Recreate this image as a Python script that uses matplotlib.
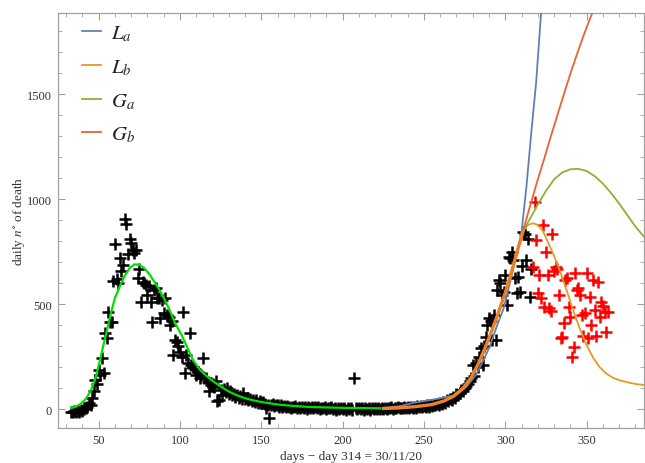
import numpy as np
import matplotlib
matplotlib.use("Agg")
import matplotlib.pyplot as plt
from matplotlib.ticker import MultipleLocator

# ---------------- data ----------------
black_start = 33
black_vals = [
    -12, -15, -10, -14, -8, -12, -5, -10, 0, 5,          # 33-42
    12, 28, 20, 52, 84, 139, 120, 187, 163, 243,         # 43-52
    171, 361, 338, 465, 417, 417, 610, 786, 620, 600,    # 53-62
    718, 660, 686, 908, 884, 740, 813, 790, 757, 742,    # 63-72
    760, 623, 670, 512, 607, 599, 591, 543, 588, 512,    # 73-82
    417, 567, 575, 530, 528, 433, 520, 456, 528, 448,    # 83-92
    440, 401, 420, 258, 330, 322, 300, 274, 250, 465,    # 93-102
    171, 258, 220, 361, 211, 203, 190, 163, 175, 147,    # 103-112
    163, 243, 150, 147, 130, 84, 116, 120, 105, 132,     # 113-122
    37, 44, 90, 68, 95, 80, 100, 72, 85, 65,             # 123-132
    70, 60, 68, 55, 62, 50, 76, 48, 55, 42,              # 133-142
    50, 38, 45, 35, 44, 30, 38, 28, 32, 25,              # 143-152
    5, 22, -43, 20, 25, 15, 22, 18, 12, 20,              # 153-162
    10, 15, 8, 14, 10, 5, 12, 8, 15, 6,                  # 163-172
    10, 4, 12, 7, 10, 2, 9, 5, 11, 3,                    # 173-182
    8, 6, 10, 2, 7, 4, 9, 0, 6, 3,                       # 183-192
    8, 1, 5, -2, 6, 2, 7, 0, 5, -3,                      # 193-202
    4, 1, 6, -2, 147, 3, -1, 5, 0, 4,                    # 203-212
    -3, 6, 1, 3, -2, 5, 0, 4, -1, 6,                     # 213-222
    2, 3, 0, 5, 2, 7, 3, 8, 1, 6,                        # 223-232
    4, 9, 3, 7, 5, 10, 4, 8, 6, 12,                      # 233-242
    7, 10, 5, 13, 9, 15, 8, 14, 12, 18,                  # 243-252
    10, 20, 15, 22, 18, 25, 20, 30, 25, 35,              # 253-262
    30, 42, 38, 50, 45, 60, 55, 70, 68, 75,              # 263-272
    90, 84, 100, 108, 120, 132, 150, 211, 160, 219,      # 273-282
    200, 250, 290, 211, 300, 346, 400, 433, 420, 330,    # 283-292
    450, 330, 567, 615, 600, 543, 560, 639, 496, 726,    # 293-302
    718, 750, 710, 623, 552, 631, 560, 680, 845, 837,    # 303-312
    710, 813, 536, 670,                                  # 313-316
]
black_days = np.arange(black_start, black_start + len(black_vals))

red_start = 317
red_vals = [
    678, 988, 805, 552, 639, 528, 876, 488, 750, 639,    # 317-326
    480, 470, 837, 660, 678, 670, 543, 338, 346, 409,    # 327-336
    615, 623, 488, 440, 250, 298, 647, 567, 575, 543,    # 337-346
    448, 350, 456, 647, 341, 536, 401, 615, 472, 350,    # 347-356
    607, 440, 512, 490, 465, 369, 465,                   # 357-363
]
red_days = np.arange(red_start, red_start + len(red_vals))

# first-wave fit (bright green)
green_days = [33, 36, 39, 42, 45, 48, 51, 54, 57, 60, 63, 66, 69, 72, 75, 78,
              81, 84, 88, 91, 94, 97, 101, 105, 108, 112, 116, 120, 125, 130,
              135, 140, 145, 150, 155, 160, 170, 180, 190, 200, 210, 223]
green_vals = [5, 12, 25, 48, 85, 145, 240, 340, 440, 530, 585, 635, 672, 690,
              688, 672, 645, 610, 560, 515, 465, 410, 353, 285, 234, 190, 160,
              135, 108, 84, 66, 52, 42, 34, 28, 22, 15, 10, 8, 6, 5, 4]

# fitted range (thick orange)
fit_days = [225, 235, 245, 255, 262, 268, 274, 279, 284, 288, 292, 296, 300,
            304, 308, 311]
fit_vals = [3, 6, 12, 22, 38, 60, 100, 150, 225, 300, 380, 465, 555, 660,
            770, 850]

# model curves
La_days = [225, 235, 243, 250, 260, 270, 276, 282, 286, 290, 295, 299, 302,
           305, 308, 310, 313, 316, 319, 322, 324]
La_vals = [6, 14, 29, 38, 52, 68, 105, 163, 225, 290, 400, 480, 575, 670,
           770, 845, 1060, 1320, 1560, 1888, 2100]

Lb_days = fit_days + [314, 317, 320, 323, 326, 330, 334, 338, 342, 346, 350,
                      354, 358, 362, 366, 370, 375, 380, 386]
Lb_vals = fit_vals + [878, 886, 878, 850, 800, 730, 650, 560, 465, 380, 305,
                      245, 200, 170, 150, 138, 128, 120, 114]

Ga_days = fit_days + [315, 320, 325, 330, 335, 340, 345, 350, 355, 360, 365,
                      370, 375, 380, 386]
Ga_vals = fit_vals + [905, 975, 1040, 1095, 1128, 1143, 1145, 1135, 1110,
                      1075, 1030, 980, 925, 870, 815]

Gb_days = fit_days + [314, 317, 320, 324, 328, 332, 336, 340, 344, 348, 352,
                      356]
Gb_vals = fit_vals + [935, 1015, 1095, 1195, 1300, 1400, 1500, 1598, 1690,
                      1778, 1860, 1935]

legend_labels = [r"$L_a$", r"$L_b$", r"$G_a$", r"$G_b$"]

# ---------------- style ----------------
plt.rcParams["font.family"] = ["Liberation Serif", "DejaVu Serif"]
plt.rcParams["mathtext.fontset"] = "stix"

fig = plt.figure(figsize=(6.45, 4.64), dpi=100)
ax = fig.add_axes([58 / 645, 1 - 429 / 464, 1 - 58 / 645 - 0.001,
                   (429 - 14) / 464])

ax.plot(black_days, black_vals, ls="none", marker="+", ms=9, mew=1.8,
        color="black", zorder=2)
ax.plot(red_days, red_vals, ls="none", marker="+", ms=9, mew=1.8,
        color="#FF0000", zorder=2)

ax.plot(green_days, green_vals, color="#00E000", lw=1.6, zorder=3)

c_La, c_Lb, c_Ga, c_Gb = "#5E81B5", "#E19C24", "#8FB032", "#EB6235"
h1, = ax.plot(La_days, La_vals, color=c_La, lw=1.3, zorder=3)
h2, = ax.plot(Lb_days, Lb_vals, color=c_Lb, lw=1.3, zorder=3)
h3, = ax.plot(Ga_days, Ga_vals, color=c_Ga, lw=1.3, zorder=3)
h4, = ax.plot(Gb_days, Gb_vals, color=c_Gb, lw=1.3, zorder=3)
ax.plot(fit_days, fit_vals, color="#F07F22", lw=2.4, zorder=4)

ax.set_xlim(25, 385.5)
ax.set_ylim(-90, 1888)

ax.xaxis.set_major_locator(MultipleLocator(50))
ax.xaxis.set_minor_locator(MultipleLocator(10))
ax.yaxis.set_major_locator(MultipleLocator(500))
ax.yaxis.set_minor_locator(MultipleLocator(100))

for s in ax.spines.values():
    s.set_color("#A0A0A0")
    s.set_linewidth(0.9)
ax.tick_params(which="both", direction="in", colors="#A0A0A0",
               top=True, right=True, labelcolor="#333333", labelsize=9)
ax.tick_params(which="major", length=5, width=0.8, pad=4.5)
ax.tick_params(which="minor", length=3, width=0.6)

ax.set_xlabel("days \u2212 day 314 = 30/11/20", fontsize=9.5, color="#333333",
              labelpad=3)
ax.set_ylabel(r"daily $n^{\circ}$ of death", fontsize=9.5, color="#333333",
              labelpad=0)

leg = ax.legend([h1, h2, h3, h4], legend_labels, loc="upper left",
                bbox_to_anchor=(0.027, 0.995), borderaxespad=0.0,
                frameon=False, fontsize=15,
                handlelength=0.9, handletextpad=0.5, labelspacing=0.68)
for t in leg.get_texts():
    t.set_color("#222222")

fig.savefig("out.png", dpi=100)
